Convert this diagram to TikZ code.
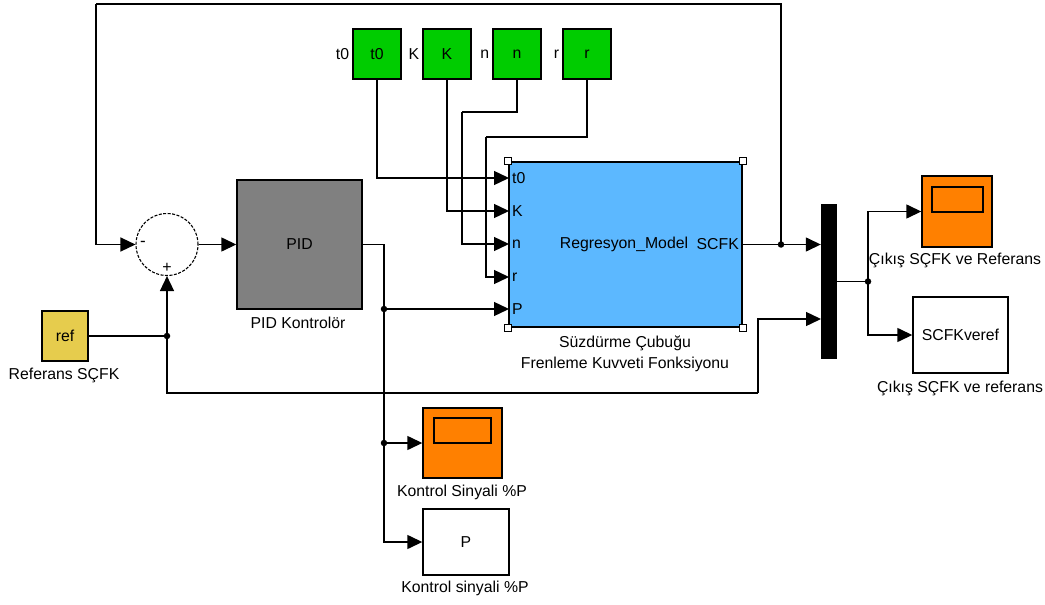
\documentclass[tikz,border=0pt]{standalone}
\usepackage{fontspec}
\setmainfont{Liberation Sans}
\usetikzlibrary{arrows.meta, positioning, calc}
\definecolor{SimGreen}{RGB}{0,204,0}
\definecolor{SimBlue}{RGB}{92,184,255}
\definecolor{SimOrange}{RGB}{255,128,0}
\definecolor{SimGray}{RGB}{128,128,128}
\definecolor{SimYellow}{RGB}{230,204,77}

\begin{document}
\begin{tikzpicture}[x=1pt, y=-1pt, font=\fontsize{15.8}{21}\selectfont,
    blk/.style={draw=black, line width=1.4pt, inner sep=0pt},
    wire/.style={line width=1.4pt},
    arr/.style={wire, -{Triangle[length=15pt,width=14pt]}},
    dot/.style={circle, fill=black, inner sep=0pt, minimum size=6.5pt},
    captxt/.style={inner sep=1pt, align=center},
    handle/.style={draw=black, fill=white, line width=1.2pt, minimum size=7pt, inner sep=0pt}]

\path[fill=white] (0,0) rectangle (1045,605);

% sabitler
\foreach \nm/\xx in {t0/377, K/447, n/517, r/587}{
    \node[blk, fill=SimGreen, minimum width=48pt, minimum height=50pt] (c\nm) at (\xx,54) {\nm};
    \node[anchor=east, inner sep=1pt] (l\nm) at ([xshift=-2pt]c\nm.west) {\nm};
}

% toplama ve PID
\node[blk, circle, line width=1.1pt, dash pattern=on 3pt off 1.5pt, minimum size=62pt] (sum) at (167,244.5) {};
\node[inner sep=0pt, font=\fontsize{17}{17}\selectfont] (sminus) at (143,244) {-};
\node[inner sep=0pt, font=\fontsize{16}{16}\selectfont] (splus) at (167,268) {+};
\node[blk, fill=SimGray, minimum width=125pt, minimum height=129pt] (pid) at (299.5,244.5) {PID};
\node[captxt] (pidcap) at (298,323) {PID Kontrolör};

% referans
\node[blk, fill=SimYellow, minimum width=46pt, minimum height=50pt] (ref) at (65,336) {ref};
\node[captxt] (refcap) at (64,375) {Referans SÇFK};

% model blogu
\node[blk, fill=SimBlue, line width=2.4pt, minimum width=233pt, minimum height=165pt] (model) at (625.5,244.5) {};
\foreach \c [count=\i] in {north west, north east, south west, south east}
    \node[handle] (h\i) at (model.\c) {};
\foreach \p/\yy in {t0/178, K/211, n/244, r/277, P/309}{
    \coordinate (p\p) at (509,\yy);
    \node[anchor=west, inner sep=1pt] (pl\p) at (511,\yy) {\p};
}
\node (mname) at (624,244) {Regresyon\_Model};
\node[anchor=east, inner sep=1pt] (mout) at (740,244) {SCFK};
\node[captxt] (modelcap) at (625,353.5) {Süzdürme Çubuğu\\Frenleme Kuvveti Fonksiyonu};

% mux ve ciktilar
\node[fill=black, minimum width=16pt, minimum height=155pt, inner sep=0pt] (mux) at (829,281.5) {};
\coordinate (mi1) at (mux.west |- model.east);
\coordinate (mi2) at (821,319);

\node[blk, fill=SimOrange, minimum width=70pt, minimum height=71pt] (scope1) at (957,211.5) {};
\node[blk, minimum width=51pt, minimum height=25pt] (scr1) at (957.5,199.5) {};
\node[captxt] (scope1cap) at (955,260) {Çıkış SÇFK ve Referans};

\node[blk, fill=white, minimum width=95pt, minimum height=76pt] (disp1) at (960.5,335) {SCFKveref};
\node[captxt] (disp1cap) at (960,388) {Çıkış SÇFK ve referans};

\node[blk, fill=SimOrange, minimum width=79pt, minimum height=70pt] (scope2) at (462.5,443) {};
\node[blk, minimum width=57pt, minimum height=25pt] (scr2) at (462.5,430.5) {};
\node[captxt] (scope2cap) at (462,492) {Kontrol Sinyali \%P};

\node[blk, fill=white, minimum width=86pt, minimum height=66pt] (disp2) at (466,542) {P};
\node[captxt] (disp2cap) at (465,588) {Kontrol sinyali \%P};

% baglantilar
\coordinate (nk) at (462,112);
\coordinate (rk) at (486,137);
\draw[arr] (ct0.south) |- (pt0);
\draw[arr] (cK.south) |- (pK);
\draw[wire] (cn.south) |- (nk);
\draw[arr] (nk) |- (pn);
\draw[wire] (cr.south) |- (rk);
\draw[arr] (rk) |- (pr);

\draw[arr] (sum.east) -- (pid.west);

\node[dot] (pdot) at (384,309) {};
\draw[wire] (pid.east) -| (pdot.center);
\draw[arr] (pdot.center) -- (pP);
\node[dot] (pdot2) at (384,443) {};
\draw[arr] (pdot.center) |- (scope2.west);
\draw[arr] (pdot.center) |- (disp2.west);

\node[dot] (fbk) at (781,244.5) {};
\coordinate (fbtl) at (96,4);
\draw[arr] (model.east) -- (mi1);
\draw[wire] (fbk.center) |- (fbtl);
\draw[arr] (fbtl) |- (sum.west);

\node[dot] (refdot) at (167,336) {};
\coordinate (refbr) at (758,393);
\draw[wire] (ref.east) -- (refdot.center);
\draw[arr] (refdot.center) -- (sum.south);
\draw[wire] (refdot.center) |- (refbr);
\draw[arr] (refbr) |- (mi2);

\node[dot] (mdot) at (868,281.5) {};
\draw[wire] (mux.east) -- (mdot.center);
\draw[arr] (mdot.center) |- (scope1.west);
\draw[arr] (mdot.center) |- (disp1.west);

\end{tikzpicture}
\end{document}
